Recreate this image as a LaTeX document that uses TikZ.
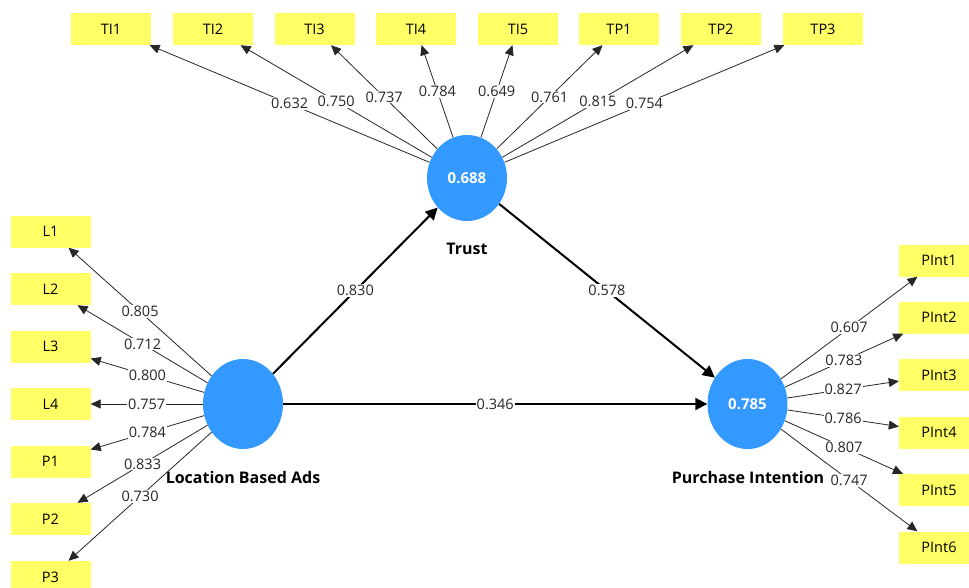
\documentclass[tikz,border=0pt]{standalone}
\usepackage{fontspec}
\setmainfont{Open Sans}
\usetikzlibrary{shapes.geometric,arrows.meta}
\definecolor{indcol}{HTML}{FFFF66}
\definecolor{latcol}{HTML}{3399FF}
\begin{document}
\begin{tikzpicture}[x=1pt,y=-1pt,
  ind/.style={rectangle, fill=indcol, minimum width=80pt, minimum height=32pt, inner sep=0pt, font=\fontsize{14.5}{16}\selectfont},
  lat/.style={ellipse, fill=latcol, inner sep=0pt, text=white, font=\bfseries\fontsize{15}{18}\selectfont},
  load/.style={line width=0.8pt, draw=black!85, -{Triangle[length=10pt,width=9pt]}},
  struct/.style={line width=2pt, -{Triangle[length=12pt,width=12pt]}},
  wt/.style={fill=white, inner sep=1pt, text=black!85, font=\fontsize{14.5}{16}\selectfont},
  capt/.style={inner sep=1pt, font=\bfseries\fontsize{16}{18}\selectfont}
]
\useasboundingbox (0,0) rectangle (969,587);
\clip (0,0) rectangle (969,587);

% latent variables
\node[lat, minimum width=80pt, minimum height=86pt] (T) at (467,178) {0.688};
\node[lat, minimum width=80pt, minimum height=90pt] (LBA) at (243,404) {};
\node[lat, minimum width=80pt, minimum height=90pt] (PI) at (747.5,404) {0.785};

\node[capt] (tcap) at (467,249) {Trust};
\node[capt] (lcap) at (243,477) {Location Based Ads};
\node[capt] (pcap) at (748,477) {Purchase Intention};

% indicators of Trust
\foreach \n/\x/\v in {TI1/111/0.632, TI2/213/0.750, TI3/314.5/0.737, TI4/416/0.784, TI5/518/0.649, TP1/619/0.761, TP2/721/0.815, TP3/823/0.754}{
  \node[ind] (\n) at (\x,29) {\n};
  \draw[load] (T) -- node[wt] {\v} (\n);
}

% indicators of Location Based Ads
\foreach \n/\y/\v in {L1/231.5/0.805, L2/289/0.712, L3/346.5/0.800, L4/404/0.757, P1/461.5/0.784, P2/519/0.833, P3/577/0.730}{
  \node[ind] (\n) at (50.5,\y) {\n};
  \draw[load] (LBA) -- node[wt] {\v} (\n);
}

% indicators of Purchase Intention
\foreach \n/\y/\v in {PInt1/260.5/0.607, PInt2/317.5/0.783, PInt3/375/0.827, PInt4/432.5/0.786, PInt5/490/0.807, PInt6/547.5/0.747}{
  \node[ind] (\n) at (939,\y) {\n};
  \draw[load] (PI) -- node[wt] {\v} (\n);
}

% structural paths
\draw[struct] (LBA) -- node[wt] {0.830} (T);
\draw[struct] (T) -- node[wt] {0.578} (PI);
\draw[struct] (LBA) -- node[wt] {0.346} (PI);
\end{tikzpicture}
\end{document}
